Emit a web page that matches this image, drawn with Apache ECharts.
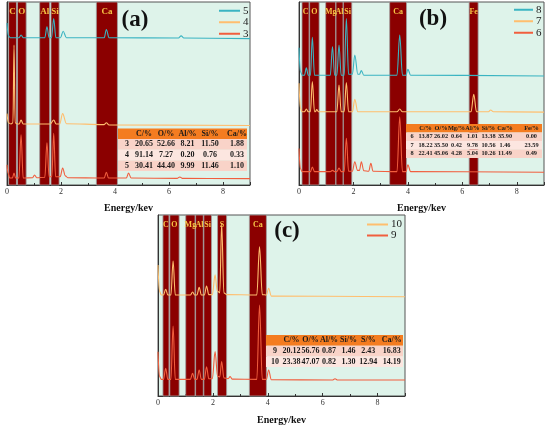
<!DOCTYPE html>
<html><head><meta charset="utf-8">
<script src="https://cdn.jsdelivr.net/npm/echarts@6/dist/echarts.min.js"></script>
<style>html,body{margin:0;padding:0;background:#fff}#c{width:550px;height:429px}</style>
</head><body><div id="c"></div>
<script>
// ---------- DATA ----------
// element bands [label, from keV, to keV]
const bandsA = [['C',0.06,0.35],['O',0.39,0.71],['Al',1.21,1.58],['Si',1.63,1.93],['Ca',3.31,4.09]];
const bandsB = [['C',0.11,0.37],['O',0.39,0.74],['Mg',0.98,1.35],['Al',1.36,1.62],['Si',1.63,1.94],['Ca',3.33,3.95],['Fe',6.25,6.58]];
const bandsC = [['C',0.18,0.40],['O',0.43,0.77],['Mg',1.01,1.35],['Al',1.37,1.65],['Si',1.67,1.95],['S',2.17,2.50],['Ca',3.33,3.95]];

// spectra (energy keV, offset intensity)
const specA5 = [[0,88.5],[0.05,81.5],[0.12,80.5],[0.45,80.5],[0.52,82],[0.6,80.5],[1.4,80.5],[1.48,86.5],[1.56,80.5],[1.65,80.5],[1.73,91],[1.81,80.5],[1.98,80.5],[2.08,84],[2.2,80.5],[3.6,80.5],[3.68,85],[3.78,80.5],[6.35,80.3],[6.45,81.5],[6.55,80.3],[9,80]];
const specA4 = [[0,39],[0.05,34],[0.15,33.3],[0.22,34],[0.26,76.5],[0.3,34],[0.38,33.3],[0.45,33.3],[0.52,35.5],[0.6,33.3],[1.6,33.3],[1.73,35.5],[1.82,33.3],[1.95,33.3],[2.06,39],[2.2,33.5],[3.6,33],[3.68,34],[3.78,32.8],[9,32.5]];
const specA3 = [[0,11],[0.04,6.5],[0.1,3.8],[0.2,3.8],[0.26,6.5],[0.32,3.8],[0.44,3.8],[0.52,27.5],[0.6,3.8],[0.95,4],[1.02,5.5],[1.1,4],[1.4,4.2],[1.48,23],[1.56,4.5],[1.66,4.5],[1.73,28.2],[1.8,4.5],[1.97,4.5],[2.06,9.3],[2.16,5],[2.25,4],[3.6,3.8],[3.68,7],[3.76,3.8],[4.42,3.8],[4.5,6.5],[4.6,3.8],[6.3,3.6],[6.4,4.4],[6.5,3.6],[9,3.5]];

const specB8 = [[0,75],[0.05,62],[0.12,60],[0.2,60],[0.27,64],[0.34,60],[0.42,60],[0.49,80.7],[0.57,60],[1.15,60],[1.23,75.6],[1.31,60],[1.39,60],[1.47,76.5],[1.55,60],[1.66,60],[1.74,91],[1.82,60.5],[1.96,60.5],[2.05,71],[2.16,60.5],[2.22,60.5],[2.29,62.5],[2.38,60],[3.6,60],[3.7,82],[3.8,60],[3.93,60],[4.0,63.2],[4.1,60],[9,59.6]];
const specB7 = [[0,55.6],[0.05,42],[0.12,40],[0.2,40],[0.27,41.5],[0.34,40],[0.42,40],[0.49,56.5],[0.57,40],[0.6,40],[0.65,41.2],[0.72,40],[1.39,40],[1.47,54.6],[1.55,40],[1.66,40],[1.74,56],[1.82,40],[1.96,40],[2.05,46.8],[2.16,40],[3.6,40],[3.7,41.5],[3.8,40],[6.32,40],[6.42,49.5],[6.52,40],[6.96,40],[7.04,41],[7.14,40],[9,39.8]];
const specB6 = [[0,20],[0.05,9],[0.12,7.3],[0.42,7.3],[0.49,9.8],[0.57,7.3],[1.15,7.3],[1.23,8],[1.31,7.3],[1.39,7.3],[1.47,9.2],[1.55,7.3],[1.66,7.3],[1.74,25.5],[1.82,7.5],[1.96,7.5],[2.05,12.7],[2.15,8],[2.22,8],[2.29,12.7],[2.38,7.8],[2.56,7.5],[2.64,11.8],[2.72,7.5],[3.6,7.3],[3.7,37.3],[3.8,7.3],[3.93,7.3],[4.0,11],[4.1,7.3],[9,7]];

const specC10 = [[0,72.4],[0.05,58],[0.12,55.8],[0.2,55.8],[0.28,59],[0.36,55.8],[0.47,55.8],[0.55,74.6],[0.63,55.8],[1.18,55.8],[1.26,57.5],[1.34,55.8],[1.42,55.8],[1.5,60],[1.58,55.8],[1.69,55.8],[1.77,60.8],[1.85,56],[1.98,56],[2.08,66.9],[2.16,58],[2.25,57],[2.32,95.4],[2.4,57],[2.5,56],[3.6,55.8],[3.7,82.5],[3.8,56],[3.95,55.8],[4.03,59.5],[4.13,55.2],[9,54.8]];
const specC9 = [[0,24.5],[0.05,11],[0.12,9.2],[0.2,9.2],[0.28,15.3],[0.36,9.2],[0.47,9.2],[0.55,38.7],[0.63,9.2],[1.18,9.2],[1.26,12.5],[1.34,9.2],[1.42,9.2],[1.5,14.4],[1.58,9.2],[1.69,9.2],[1.77,16.2],[1.85,9.5],[1.98,9.5],[2.08,24.5],[2.17,11],[2.25,10.5],[2.32,19],[2.4,10],[2.55,9.5],[2.63,10.7],[2.71,9.3],[3.6,9.2],[3.7,50.3],[3.8,9.2],[3.95,9.2],[4.03,14.4],[4.13,9],[6.35,8.8],[6.45,9.5],[6.55,8.8],[9,8.8]];

// tables
const tableAHead = ['C/%','O/%','Al/%','Si/%','Ca/%'];
const tableARows = ['3','4','5'];
const tableAVals = [[20.65,52.66,8.21,11.50,1.88],[91.14,7.27,0.20,0.76,0.33],[30.41,44.40,9.99,11.46,1.10]];
const tableBHead = ['C/%','O/%','Mg/%','Al/%','Si/%','Ca/%','Fe/%'];
const tableBRows = ['6','7','8'];
const tableBVals = [[13.87,26.02,0.64,1.01,13.38,35.90,0.00],[18.22,35.50,0.42,9.78,10.56,1.46,23.59],[22.41,45.06,4.28,5.04,10.26,11.49,0.49]];
const tableCHead = ['C/%','O/%','Al/%','Si/%','S/%','Ca/%'];
const tableCRows = ['9','10'];
const tableCVals = [[20.12,56.76,0.87,1.46,2.43,16.83],[23.38,47.07,0.82,1.30,12.94,14.19]];

// ---------- STYLE / LAYOUT ----------
const FONT = '"Liberation Serif", "DejaVu Serif", serif';
const TEAL = '#3ab4c2', LORANGE = '#ffbe6e', RED = '#f15e3e';
const BAND = '#8b0000', GOLD = '#f6c445', BG = '#def3ea';

const grids = [
  {left:7, top:2, width:243, height:183},
  {left:299, top:2, width:245, height:183},
  {left:158, top:215, width:247, height:181}
];

function xAx(gi, gap){
  return {gridIndex:gi, type:'value', min:0, max:9, interval:2,
    axisLine:{show:true, lineStyle:{color:'#333', width:1}},
    axisTick:{show:true, inside:true, length:3, lineStyle:{color:'#333'}},
    minorTick:{show:true, splitNumber:2, length:2, lineStyle:{color:'#333'}},
    axisLabel:{fontSize:8, fontFamily:FONT, color:'#333', margin:3, showMaxLabel:false},
    splitLine:{show:false},
    name:'Energy/kev', nameLocation:'middle', nameGap:gap,
    nameTextStyle:{fontFamily:FONT, fontWeight:'bold', fontSize:10, color:'#111'}};
}
function yAx(gi){
  return {gridIndex:gi, type:'value', min:0, max:100,
    axisLine:{show:true, lineStyle:{color:'#333'}}, axisTick:{show:false},
    axisLabel:{show:false}, splitLine:{show:false}};
}
function bandSeries(gi, bands, fs){
  return {type:'line', xAxisIndex:gi, yAxisIndex:gi, data:[], z:1, silent:true,
    markArea:{silent:true,
      itemStyle:{color:BAND, borderColor:'#a0a0a0', borderWidth:0.8},
      label:{show:true, position:'insideTop', distance:6, color:GOLD, fontFamily:FONT, fontWeight:'bold', fontSize:fs},
      data: bands.map(b => [{name:b[0], xAxis:b[1]}, {xAxis:b[2]}])}};
}
function spec(gi, name, data, color){
  return {name, type:'line', xAxisIndex:gi, yAxisIndex:gi, data, showSymbol:false,
    smooth:0.35, smoothMonotone:'x', z:3,
    lineStyle:{color, width:1.1}, itemStyle:{color}};
}
function legend(names, left, top, iw, lh){
  return {data:names, orient:'vertical', left, top, itemWidth:iw, itemHeight:2, itemGap:0,
    icon:'rect', selectedMode:false, padding:0,
    textStyle:{fontFamily:FONT, fontSize:11, color:'#222', lineHeight:lh, padding:[0,0,0,-2]}};
}
function table(x0, x1, yEdges, labelX, colX, head, rows, vals, fs){
  const g = [];
  const fills = ['#f47c20','#f9d3c8','#fce6e0','#f9d3c8'];
  for (let i=0;i<yEdges.length-1;i++){
    g.push({type:'rect', z:20, shape:{x:x0, y:yEdges[i], width:x1-x0, height:yEdges[i+1]-yEdges[i]}, style:{fill:fills[i]}});
  }
  const txt = (t, x, y) => ({type:'text', z:21, x, y, style:{text:t, fill:'#1a1a1a',
    font:'bold '+fs+'px '+FONT, align:'center', verticalAlign:'middle', textAlign:'center', textVerticalAlign:'middle'}});
  const cy = i => (yEdges[i]+yEdges[i+1])/2;
  head.forEach((h,j) => g.push(txt(h, colX[j], cy(0))));
  rows.forEach((r,i) => {
    g.push(txt(r, labelX, cy(i+1)));
    vals[i].forEach((v,j) => g.push(txt(v.toFixed(2), colX[j], cy(i+1))));
  });
  return g;
}
function panelLabel(t, x, y){
  return {type:'text', z:22, x, y, style:{text:t, fill:'#111', font:'bold 23px '+FONT,
    align:'center', verticalAlign:'middle', textAlign:'center', textVerticalAlign:'middle'}};
}

const chart = echarts.init(document.getElementById('c'), null, {renderer:'canvas'});
chart.setOption({
  animation:false,
  backgroundColor:'#fff',
  grid: grids.map(g => Object.assign({show:true, backgroundColor:BG, borderColor:'#555', borderWidth:1}, g)),
  xAxis:[xAx(0,18), xAx(1,18), xAx(2,19)],
  yAxis:[yAx(0), yAx(1), yAx(2)],
  legend:[
    legend(['5','4','3'], 219, 5, 21, 11.5),
    legend(['8','7','6'], 514, 4, 19, 11.5),
    legend(['10','9'], 367, 219, 21, 10)
  ],
  series:[
    bandSeries(0, bandsA, 9),
    bandSeries(1, bandsB, 8),
    bandSeries(2, bandsC, 8),
    spec(0,'5',specA5,TEAL), spec(0,'4',specA4,LORANGE), spec(0,'3',specA3,RED),
    spec(1,'8',specB8,TEAL), spec(1,'7',specB7,LORANGE), spec(1,'6',specB6,RED),
    spec(2,'10',specC10,LORANGE), spec(2,'9',specC9,RED)
  ],
  graphic: [].concat(
    table(118, 247, [128.5,139,149.8,160.5,171], 127, [144,166,187.5,210,237], tableAHead, tableARows, tableAVals, 8),
    table(406, 542, [124,132.5,141,149.5,158], 412, [425.5,441,456.5,472.5,488.5,505,531.5], tableBHead, tableBRows, tableBVals, 6.3),
    table(266, 403, [335,345.7,356.5,367], 275, [291.5,310.5,329,348.5,368.3,391.7], tableCHead, tableCRows, tableCVals, 8),
    [panelLabel('(a)',135,20), panelLabel('(b)',433,19), panelLabel('(c)',287,231)]
  )
});
</script></body></html>
